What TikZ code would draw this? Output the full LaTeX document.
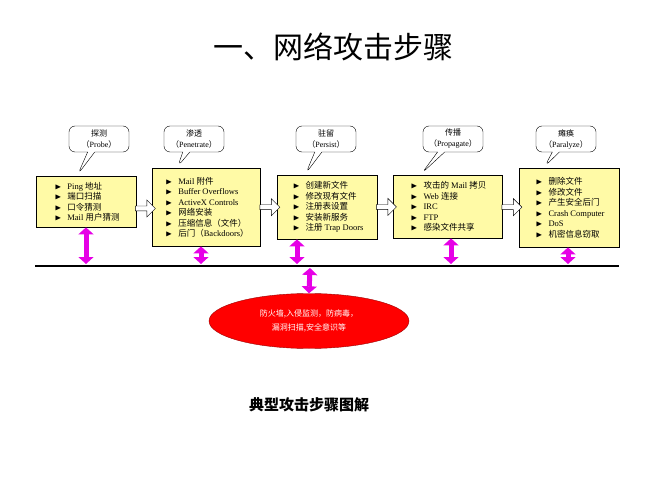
\documentclass[tikz,border=0pt]{standalone}
\usepackage{fontspec}
\usepackage{amssymb}
\setmainfont{Liberation Serif}
\newfontfamily\cjk{Noto Sans CJK SC}
\newcommand{\zh}[1]{{\cjk #1}}
\newcommand{\bul}{\hspace*{2pt}$\blacktriangleright$\hspace{6pt}}
\usetikzlibrary{arrows.meta,calc,shapes.arrows,shapes.callouts,shapes.geometric}
\definecolor{pinkish}{RGB}{230,0,230}
\tikzset{
  stepbox/.style={draw,fill=yellow!35,anchor=north west,align=left,font=\fontsize{8.5}{10.5}\selectfont,inner sep=3pt},
  bubble/.style={rectangle callout,draw,fill=white,rounded corners=6pt,align=center,minimum width=60pt,minimum height=26pt,font=\fontsize{8}{11}\selectfont,inner sep=2pt},
  hollow/.style={single arrow,draw,fill=white,minimum height=20pt,minimum width=17pt,single arrow head extend=3pt,inner sep=1pt},
  pinkarrow/.style={line width=5pt,pinkish,{Triangle[width=15pt,length=7pt]}-{Triangle[width=15pt,length=7pt]}}
}
\begin{document}
\begin{tikzpicture}[x=1pt,y=-1pt]
  \useasboundingbox (0,0) rectangle (667,500);
  \node (title) at (333,47) {\cjk\fontsize{30}{30}\selectfont 一、网络攻击步骤};
  % step boxes
  \node[stepbox,minimum width=100pt,minimum height=51pt] (probe) at (36,176)
    {\bul Ping \zh{地址}\\ \bul\zh{端口扫描}\\ \bul\zh{口令猜测}\\ \bul Mail \zh{用户猜测}};
  \node[stepbox,minimum width=108pt,minimum height=78pt] (pen) at (152,168)
    {\bul Mail \zh{附件}\\ \bul Buffer Overflows\\ \bul ActiveX Controls\\ \bul\zh{网络安装}\\ \bul\zh{压缩信息（文件）}\\ \bul\zh{后门（}Backdoors\zh{）}};
  \node[stepbox,minimum width=100pt,minimum height=64pt] (persist) at (277,175)
    {\bul\zh{创建新文件}\\ \bul\zh{修改现有文件}\\ \bul\zh{注册表设置}\\ \bul\zh{安装新服务}\\ \bul\zh{注册} Trap Doors};
  \node[stepbox,minimum width=109pt,minimum height=63pt] (prop) at (393,175)
    {\bul\zh{攻击的} Mail \zh{拷贝}\\ \bul Web \zh{连接}\\ \bul IRC\\ \bul FTP\\ \bul\zh{感染文件共享}};
  \node[stepbox,minimum width=100pt,minimum height=79pt] (para) at (519,168)
    {\bul\zh{删除文件}\\ \bul\zh{修改文件}\\ \bul\zh{产生安全后门}\\ \bul Crash Computer\\ \bul DoS\\ \bul\zh{机密信息窃取}};
  % callouts
  \node[bubble,callout absolute pointer={(78,174)}] (c1) at (99,139) {\zh{探测}\\\zh{（}Probe\zh{）}};
  \node[bubble,callout absolute pointer={(178,166)}] (c2) at (194,139) {\zh{渗透}\\\zh{（}Penetrate\zh{）}};
  \node[bubble,callout absolute pointer={(306,173)}] (c3) at (326,139) {\zh{驻留}\\\zh{（}Persist\zh{）}};
  \node[bubble,callout absolute pointer={(422,173)}] (c4) at (453,139) {\zh{传播}\\\zh{（}Propagate\zh{）}};
  \node[bubble,callout absolute pointer={(545,166)}] (c5) at (566,139) {\zh{瘫痪}\\\zh{（}Paralyze\zh{）}};
  % hollow arrows
  \node[hollow] at ($(probe.east)!0.5!(pen.west)+(0,4)$) {};
  \node[hollow] at ($(pen.east)!0.5!(persist.west)$) {};
  \node[hollow] at ($(persist.east)!0.5!(prop.west)$) {};
  \node[hollow] at ($(prop.east)!0.5!(para.west)$) {};
  % bus line
  \coordinate (l) at (35,266);
  \coordinate (r) at (619,266);
  \draw[line width=2pt] (l) -- (r);
  \foreach \b/\x in {probe/86,pen/201,persist/297,prop/451,para/568}
    \draw[pinkarrow] (\b.south -| \x,0) -- (\x,264);
  % defence
  \node[ellipse,draw=red!60!black,fill=red,text=white,minimum width=200pt,minimum height=55pt,align=center,font=\cjk\fontsize{8}{14}\selectfont] (def) at (309,321)
    {防火墙,入侵监测，防病毒，\\漏洞扫描,安全意识等};
  \draw[pinkarrow] (310,268) -- (def.north);
  \node (cap) at (309,405) {\cjk\bfseries\fontsize{15}{15}\selectfont 典型攻击步骤图解};
\end{tikzpicture}
\end{document}
